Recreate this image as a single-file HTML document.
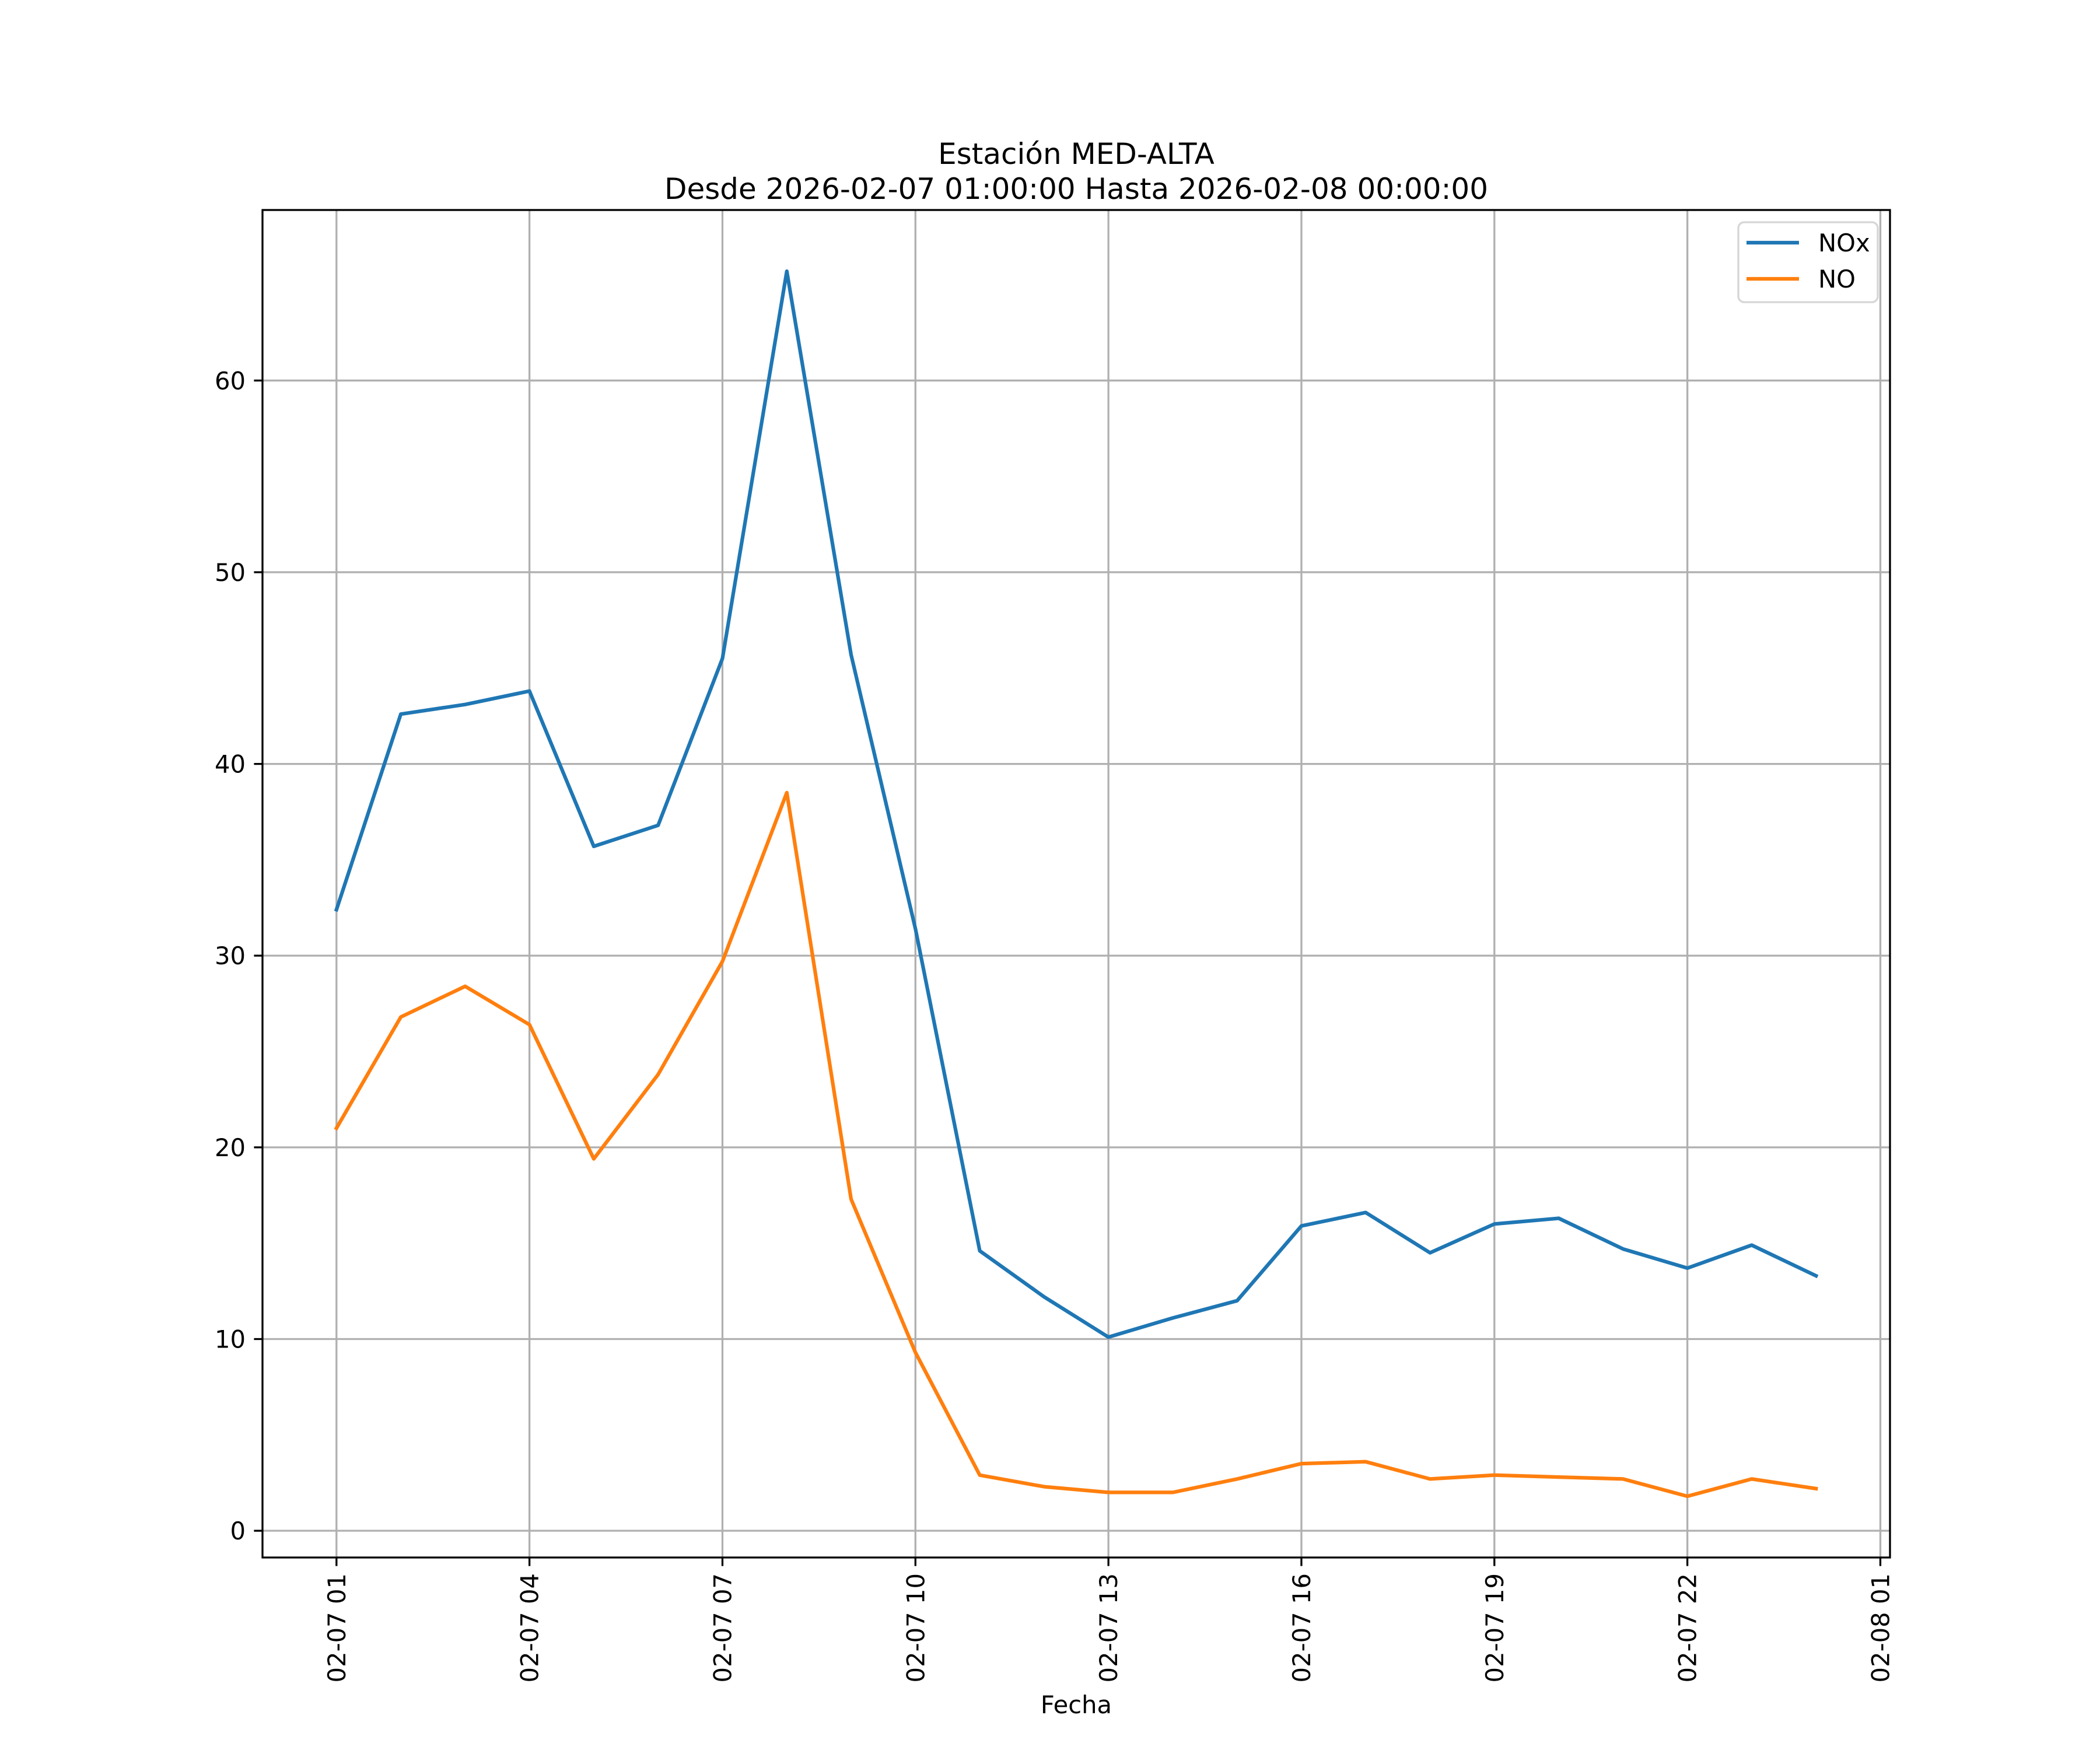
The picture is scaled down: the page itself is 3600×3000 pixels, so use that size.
<!DOCTYPE html>
<html><head><meta charset="utf-8"><style>
html,body{margin:0;padding:0;background:#fff;}
svg{display:block;font-family:"DejaVu Sans","Liberation Sans",sans-serif;}
</style></head><body>
<svg id="chart" width="3600" height="3000" viewBox="0 0 3600 3000" xmlns="http://www.w3.org/2000/svg">
<rect x="0" y="0" width="3600" height="3000" fill="#fff"/>
<g id="grid"></g>
<g id="series"></g>
<g id="axes"></g>
<text x="1845" y="281" font-size="50" text-anchor="middle">Estación MED-ALTA</text>
<text x="1845" y="341" font-size="50" text-anchor="middle">Desde 2026-02-07 01:00:00 Hasta 2026-02-08 00:00:00</text>
<text x="1845" y="2937" font-size="41.7" text-anchor="middle">Fecha</text>
<g>
<rect x="2980" y="381" width="239" height="137" rx="10" fill="#fff" fill-opacity="0.8" stroke="#d6d6d6" stroke-width="3.3"/>
<line x1="2994" y1="416" x2="3084" y2="416" stroke="#1f77b4" stroke-width="6.25"/>
<text x="3117" y="431" font-size="41.7">NOx</text>
<line x1="2994" y1="478" x2="3084" y2="478" stroke="#ff7f0e" stroke-width="6.25"/>
<text x="3117" y="493" font-size="41.7">NO</text>
</g>
</svg>
<script>
const hours = [0,1,2,3,4,5,6,7,8,9,10,11,12,13,14,15,16,17,18,19,20,21,22,23];
const noxValues = [32.4,42.6,43.1,43.8,35.7,36.8,45.5,65.7,45.7,31.4,14.6,12.2,10.1,11.1,12.0,15.9,16.6,14.5,16.0,16.3,14.7,13.7,14.9,13.3];
const noValues = [21.0,26.8,28.4,26.4,19.4,23.8,29.7,38.5,17.3,9.3,2.9,2.3,2.0,2.0,2.7,3.5,3.6,2.7,2.9,2.8,2.7,1.8,2.7,2.2];
const xTickHours = [0,3,6,9,12,15,18,21,24];
const xTickLabels = ["02-07 01","02-07 04","02-07 07","02-07 10","02-07 13","02-07 16","02-07 19","02-07 22","02-08 01"];
const yTicks = [0,10,20,30,40,50,60];

const L=450,R=3240,T=360,B=2670;
const allV=noxValues.concat(noValues);
const vmin=Math.min(...allV), vmax=Math.max(...allV);
const ymin=vmin-0.05*(vmax-vmin), ymax=vmax+0.05*(vmax-vmin);
const hmin=Math.min(...hours), hmax=Math.max(...hours);
const xlo=hmin-0.05*(hmax-hmin), xhi=hmax+0.05*(hmax-hmin);
function xs(h){return L+(h-xlo)/(xhi-xlo)*(R-L);}
function ys(v){return B-(v-ymin)/(ymax-ymin)*(B-T);}
const NS="http://www.w3.org/2000/svg";
function mk(tag,attrs,parent){const e=document.createElementNS(NS,tag);for(const k in attrs)e.setAttribute(k,attrs[k]);parent.appendChild(e);return e;}
const grid=document.getElementById('grid'),axes=document.getElementById('axes'),series=document.getElementById('series');

xTickHours.forEach((h,i)=>{
  const x=xs(h);
  const g=mk('line',{x1:x,y1:T,x2:x,y2:B,stroke:'#b0b0b0','stroke-width':3.3},grid);
  
  
  const t=mk('line',{x1:x,y1:B,x2:x,y2:B+14.6,stroke:'#000','stroke-width':3.3},axes);
  
  
  const lb=mk('text',{x:0,y:0,'font-size':41.7,'text-anchor':'end',transform:`translate(${x+15},${B+27}) rotate(-90)`},axes);
  lb.textContent=xTickLabels[i];
  
  
});
yTicks.forEach(v=>{
  const y=ys(v);
  const g=mk('line',{x1:L,y1:y,x2:R,y2:y,stroke:'#b0b0b0','stroke-width':3.3},grid);
  
  
  const t=mk('line',{x1:L-14.6,y1:y,x2:L,y2:y,stroke:'#000','stroke-width':3.3},axes);
  
  
  const lb=mk('text',{x:L-29,y:y+15,'font-size':41.7,'text-anchor':'end'},axes);
  lb.textContent=String(v);
  
  
});
const frame=mk('rect',{x:L,y:T,width:R-L,height:B-T,fill:'none',stroke:'#000','stroke-width':3.3},axes);



function drawLine(vals,color,name){
  const pts=vals.map((v,i)=>xs(hours[i]).toFixed(1)+','+ys(v).toFixed(1)).join(' ');
  const p=mk('polyline',{points:pts,fill:'none',stroke:color,'stroke-width':6.25,'stroke-linejoin':'round','stroke-linecap':'square'},series);
  
  
}
drawLine(noxValues,'#1f77b4','nox-line');
drawLine(noValues,'#ff7f0e','no-line');
</script>
</body></html>
